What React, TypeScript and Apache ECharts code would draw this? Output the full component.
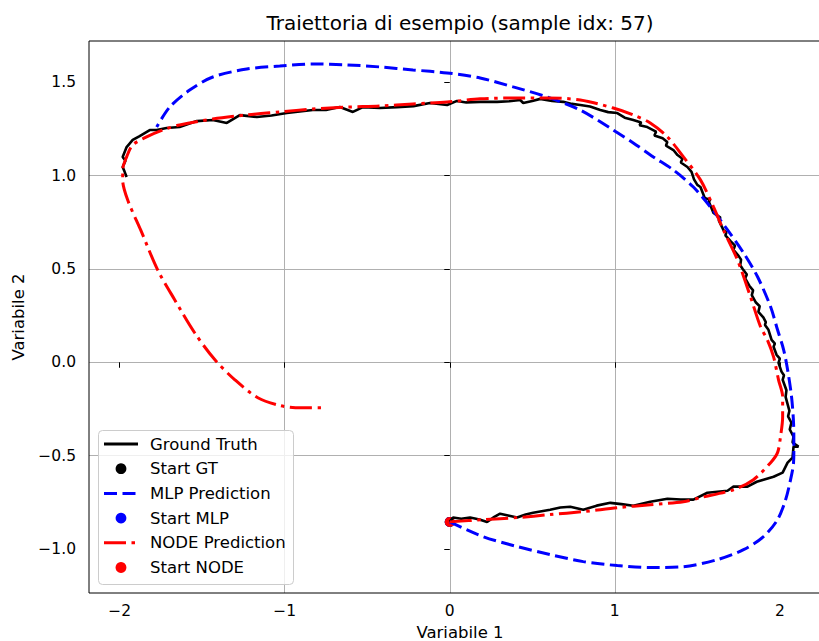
import React, { useEffect, useRef } from "react";
import * as echarts from "echarts";

const titleText = "Traiettoria di esempio (sample idx: 57)";
const xLabel = "Variabile 1";
const yLabel = "Variabile 2";
const xTicks = [-2, -1, 0, 1, 2];
const yTicks = [-1, -0.5, 0, 0.5, 1, 1.5];
const legendNames = ["Ground Truth", "Start GT", "MLP Prediction", "Start MLP", "NODE Prediction", "Start NODE"];

const gtX = [0.0, 0.02, 0.07, 0.123, 0.18, 0.226, 0.27, 0.305, 0.36, 0.408, 0.46, 0.505, 0.608, 0.67, 0.73, 0.809, 0.89, 0.973, 1.04, 1.112, 1.215, 1.319, 1.4, 1.476, 1.561, 1.683, 1.719, 1.804, 1.86, 1.901, 1.962, 2.017, 2.047, 2.077, 2.083, 2.113, 2.077, 2.083, 2.06, 2.07, 2.05, 2.058, 2.035, 2.04, 2.017, 2.025, 2.01, 1.992, 2.0, 1.98, 1.962, 1.97, 1.95, 1.931, 1.91, 1.915, 1.9, 1.87, 1.878, 1.855, 1.83, 1.838, 1.815, 1.79, 1.8, 1.775, 1.76, 1.765, 1.75, 1.719, 1.728, 1.7, 1.67, 1.676, 1.658, 1.63, 1.64, 1.598, 1.57, 1.578, 1.545, 1.519, 1.5, 1.48, 1.465, 1.44, 1.4, 1.41, 1.38, 1.355, 1.31, 1.318, 1.29, 1.24, 1.25, 1.197, 1.15, 1.16, 1.112, 1.06, 1.015, 0.96, 0.912, 0.85, 0.791, 0.74, 0.688, 0.62, 0.548, 0.5, 0.445, 0.427, 0.36, 0.287, 0.184, 0.1, 0.044, -0.016, -0.12, -0.22, -0.32, -0.423, -0.526, -0.587, -0.666, -0.75, -0.83, -0.987, -1.08, -1.169, -1.272, -1.351, -1.436, -1.533, -1.637, -1.716, -1.776, -1.818, -1.879, -1.921, -1.958, -1.982, -1.965, -1.982, -1.97, -1.958];
const gtY = [-0.855, -0.832, -0.838, -0.832, -0.842, -0.856, -0.828, -0.811, -0.822, -0.832, -0.815, -0.806, -0.79, -0.778, -0.774, -0.79, -0.768, -0.753, -0.76, -0.769, -0.747, -0.731, -0.735, -0.736, -0.699, -0.688, -0.666, -0.666, -0.64, -0.629, -0.613, -0.591, -0.538, -0.511, -0.452, -0.452, -0.43, -0.399, -0.36, -0.324, -0.29, -0.26, -0.185, -0.15, -0.094, -0.07, -0.05, -0.003, 0.02, 0.04, 0.083, 0.1, 0.12, 0.174, 0.2, 0.215, 0.24, 0.27, 0.3, 0.32, 0.36, 0.385, 0.41, 0.45, 0.47, 0.5, 0.52, 0.55, 0.57, 0.602, 0.625, 0.65, 0.68, 0.695, 0.709, 0.76, 0.775, 0.8, 0.86, 0.87, 0.88, 0.939, 0.95, 0.98, 1.02, 1.046, 1.07, 1.09, 1.11, 1.137, 1.16, 1.18, 1.2, 1.215, 1.235, 1.26, 1.27, 1.285, 1.298, 1.31, 1.335, 1.34, 1.351, 1.37, 1.378, 1.384, 1.395, 1.4, 1.411, 1.4, 1.389, 1.405, 1.398, 1.395, 1.395, 1.392, 1.4, 1.378, 1.389, 1.372, 1.367, 1.362, 1.367, 1.341, 1.367, 1.352, 1.351, 1.335, 1.322, 1.314, 1.324, 1.282, 1.298, 1.292, 1.26, 1.255, 1.244, 1.244, 1.212, 1.191, 1.153, 1.1, 1.08, 1.046, 1.02, 0.993];

const mlpX = [0.0, 0.202, 0.408, 0.608, 0.809, 1.015, 1.215, 1.416, 1.622, 1.78, 1.901, 1.986, 2.035, 2.065, 2.083, 2.085, 2.083, 2.071, 2.047, 2.023, 1.986, 1.944, 1.865, 1.78, 1.683, 1.579, 1.476, 1.355, 1.234, 1.112, 0.991, 0.791, 0.59, 0.384, 0.184, -0.016, -0.223, -0.423, -0.623, -0.83, -1.03, -1.23, -1.436, -1.576, -1.697, -1.776];
const mlpY = [-0.855, -0.934, -0.987, -1.03, -1.068, -1.089, -1.1, -1.095, -1.057, -1.004, -0.934, -0.843, -0.736, -0.629, -0.538, -0.452, -0.324, -0.185, -0.04, 0.067, 0.174, 0.297, 0.458, 0.586, 0.709, 0.832, 0.939, 1.03, 1.1, 1.175, 1.244, 1.351, 1.421, 1.475, 1.523, 1.55, 1.566, 1.582, 1.593, 1.598, 1.587, 1.571, 1.528, 1.458, 1.367, 1.26];

const nodeX = [0.0, 0.202, 0.408, 0.608, 0.809, 1.015, 1.215, 1.416, 1.519, 1.719, 1.84, 1.944, 1.986, 2.004, 2.017, 2.017, 1.992, 1.962, 1.925, 1.883, 1.822, 1.743, 1.658, 1.598, 1.519, 1.416, 1.319, 1.215, 1.112, 0.991, 0.791, 0.59, 0.384, 0.184, -0.016, -0.223, -0.423, -0.623, -0.83, -1.03, -1.23, -1.436, -1.637, -1.74, -1.837, -1.921, -1.958, -1.982, -1.982, -1.952, -1.873, -1.77, -1.667, -1.546, -1.423, -1.302, -1.163, -1.023, -0.902, -0.769];
const nodeY = [-0.855, -0.843, -0.832, -0.816, -0.8, -0.779, -0.763, -0.747, -0.725, -0.683, -0.629, -0.538, -0.484, -0.399, -0.292, -0.185, -0.094, 0.029, 0.119, 0.19, 0.351, 0.549, 0.709, 0.832, 0.977, 1.1, 1.207, 1.282, 1.325, 1.362, 1.405, 1.416, 1.416, 1.411, 1.394, 1.384, 1.373, 1.367, 1.357, 1.341, 1.325, 1.303, 1.271, 1.244, 1.207, 1.164, 1.1, 1.03, 0.977, 0.87, 0.709, 0.495, 0.335, 0.158, 0.013, -0.094, -0.19, -0.233, -0.244, -0.244];

const startGT = [0.0, -0.855];
const startMLP = [0.0, -0.855];
const startNODE = [0.0, -0.855];

const zip = (xs: number[], ys: number[]) => xs.map((x, i) => [x, ys[i]]);

const FONT = "DejaVu Sans";
const BLUE_DASH = [13, 5.5];
const RED_DASHDOT = [22, 5.5, 3.5, 5.5];
const fmt = (v: number, d: number) => (v < 0 ? "\u2212" : "") + Math.abs(v).toFixed(d);

export default function App() {
  const ref = useRef<HTMLDivElement>(null);
  useEffect(() => {
    if (!ref.current) return;
    const chart = echarts.init(ref.current, undefined, { renderer: "svg" });
    const legendTop = 444;
    const rowH = 24.7;
    const legendItems: any[] = [
      { type: "rect", shape: { x: 98.5, y: 430.5, width: 195, height: 154, r: 4 }, style: { fill: "rgba(255,255,255,0.8)", stroke: "#cccccc", lineWidth: 1 }, z: 50 },
    ];
    const handles = [
      { kind: "line", color: "#000000", dash: null },
      { kind: "dot", color: "#000000" },
      { kind: "line", color: "#0000ff", dash: BLUE_DASH },
      { kind: "dot", color: "#0000ff" },
      { kind: "line", color: "#ff0000", dash: RED_DASHDOT },
      { kind: "dot", color: "#ff0000" },
    ];
    handles.forEach((h: any, i) => {
      const y = legendTop + i * rowH;
      if (h.kind === "line") {
        legendItems.push({
          type: "line",
          shape: { x1: 104, y1: y, x2: 138, y2: y },
          style: { stroke: h.color, lineWidth: 3, lineDash: h.dash || undefined, lineCap: "butt" },
          z: 51,
        });
      } else {
        legendItems.push({ type: "circle", shape: { cx: 121, cy: y, r: 5.4 }, style: { fill: h.color }, z: 51 });
      }
      legendItems.push({
        type: "text",
        x: 150,
        y,
        style: { text: legendNames[i], fill: "#000", font: `16.5px '${FONT}'`, textVerticalAlign: "middle", textAlign: "left" },
        z: 51,
      });
    });

    chart.setOption({
      animation: false,
      backgroundColor: "#ffffff",
      grid: { left: 89, top: 41, right: 0, bottom: 48, containLabel: false, outerBoundsMode: "none" },
      xAxis: {
        type: "value",
        min: -2.186,
        max: 2.31,
        minInterval: 1,
        maxInterval: 1,
        name: xLabel,
        nameLocation: "middle",
        nameGap: 30,
        nameTextStyle: { fontFamily: FONT, fontSize: 16.5, lineHeight: 17, color: "#000" },
        axisLine: { show: false },
        axisTick: { show: true, inside: false, length: 5.5, lineStyle: { color: "#000", width: 1 }, customValues: xTicks },
        axisLabel: { show: true, margin: 10, fontFamily: FONT, fontSize: 15.5, color: "#000", customValues: xTicks, formatter: (v: number) => fmt(v, 0), showMinLabel: true, showMaxLabel: true },
        splitLine: { show: true, showMinLine: false, showMaxLine: false, lineStyle: { color: "#b0b0b0", width: 1 } },
      },
      yAxis: {
        type: "value",
        min: -1.236,
        max: 1.721,
        minInterval: 0.5,
        maxInterval: 0.5,
        name: yLabel,
        nameLocation: "middle",
        nameGap: 62,
        nameRotate: 90,
        nameTextStyle: { fontFamily: FONT, fontSize: 16.5, color: "#000" },
        axisLine: { show: false },
        axisTick: { show: true, inside: false, length: 5.5, lineStyle: { color: "#000", width: 1 }, customValues: yTicks },
        axisLabel: { show: true, margin: 13, fontFamily: FONT, fontSize: 15.5, color: "#000", customValues: yTicks, formatter: (v: number) => fmt(v, 1), showMinLabel: true, showMaxLabel: true },
        splitLine: { show: true, showMinLine: false, showMaxLine: false, lineStyle: { color: "#b0b0b0", width: 1 } },
      },
      graphic: [
        {
          type: "text",
          x: 460,
          y: 23,
          style: { text: titleText, fill: "#000", font: `20px '${FONT}'`, textAlign: "center", textVerticalAlign: "middle" },
        },
        {
          type: "rect",
          shape: { x: 89, y: 41, width: 742, height: 552 },
          style: { fill: "none", stroke: "#000", lineWidth: 1 },
          z: 40,
          silent: true,
        },
        ...legendItems,
      ],
      series: [
        { name: "Ground Truth", type: "line", data: zip(gtX, gtY), showSymbol: false, symbol: "none", lineStyle: { color: "#000000", width: 2.6 }, itemStyle: { color: "#000" } },
        { name: "Start GT", type: "scatter", data: [startGT], symbolSize: 10, itemStyle: { color: "#000000", opacity: 1 } },
        { name: "MLP Prediction", type: "line", data: zip(mlpX, mlpY), smooth: 0.3, showSymbol: false, symbol: "none", lineStyle: { color: "#0000ff", width: 3, type: BLUE_DASH }, itemStyle: { color: "#0000ff" } },
        { name: "Start MLP", type: "scatter", data: [startMLP], symbolSize: 10, itemStyle: { color: "#0000ff", opacity: 1 } },
        { name: "NODE Prediction", type: "line", data: zip(nodeX, nodeY), smooth: 0.3, showSymbol: false, symbol: "none", lineStyle: { color: "#ff0000", width: 3, type: RED_DASHDOT }, itemStyle: { color: "#ff0000" } },
        { name: "Start NODE", type: "scatter", data: [startNODE], symbolSize: 10, itemStyle: { color: "#ff0000", opacity: 1 } },
      ],
    });
    return () => chart.dispose();
  }, []);
  return (
    <div style={{ position: "fixed", left: 0, top: 0, width: 819, height: 641, overflow: "hidden" }}>
      <div ref={ref} style={{ width: 831, height: 641 }} />
    </div>
  );
}
